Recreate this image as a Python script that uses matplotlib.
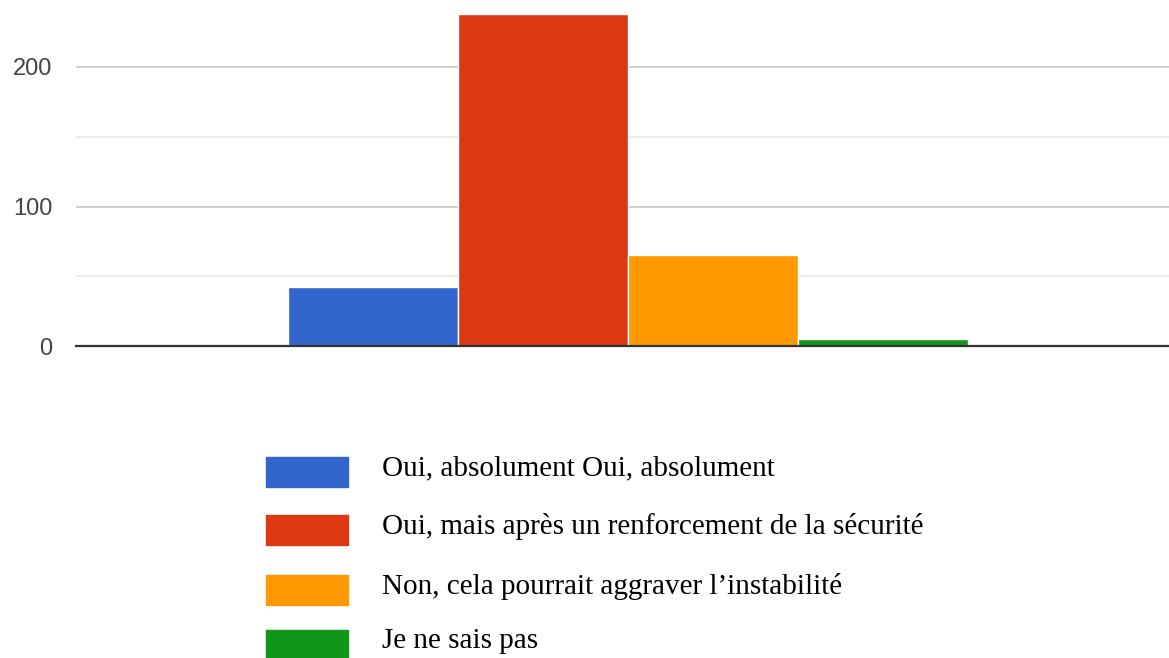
import matplotlib.pyplot as plt
from matplotlib.patches import Rectangle

# survey answers and counts
labels = ['Oui, absolument Oui, absolument',
          'Oui, mais après un renforcement de la sécurité',
          'Non, cela pourrait aggraver l\u2019instabilité',
          'Je ne sais pas']
counts = [42, 238, 65, 5]
colors = ['#3366CC', '#DC3912', '#FF9900', '#109618']
offsets = [-1.5, -0.5, 0.5, 1.5]

fig = plt.figure(figsize=(11.69, 6.58), dpi=100)
ax = fig.add_axes([0.065, 0.474, 0.935, 0.526])

ax.bar(offsets, counts, width=1.0, color=colors, edgecolor='white', linewidth=1, zorder=3)

ax.set_xlim(-3.25, 3.18)
ax.set_ylim(0, 248)
ax.set_yticks([0, 100, 200])
ax.set_yticks([50, 150], minor=True)
ax.set_xticks([])
ax.grid(axis='y', which='major', color='#cccccc', linewidth=1.3, zorder=0)
ax.grid(axis='y', which='minor', color='#ebebeb', linewidth=1.3, zorder=0)
ax.tick_params(axis='y', which='both', length=0, pad=17, labelsize=17,
               labelcolor='#444444')
for lbl in ax.get_yticklabels():
    lbl.set_fontfamily('Liberation Sans')
for s in ['top', 'right', 'left']:
    ax.spines[s].set_visible(False)
ax.spines['bottom'].set_color('#333333')
ax.spines['bottom'].set_linewidth(1.6)
ax.spines['bottom'].set_zorder(4)

# legend drawn by hand below the plot
W, H = 1169, 658
row_y = [472, 530, 590, 645]
for lab, col, yc in zip(labels, colors, row_y):
    fig.add_artist(Rectangle((266 / W, 1 - (yc + 15) / H), 82 / W, 30 / H,
                             transform=fig.transFigure, color=col))
    fig.text(382 / W, 1 - (yc - 4) / H, lab, family='Liberation Serif',
             fontsize=21, color='black', va='center', ha='left')

fig.savefig('out.png', dpi=100)
